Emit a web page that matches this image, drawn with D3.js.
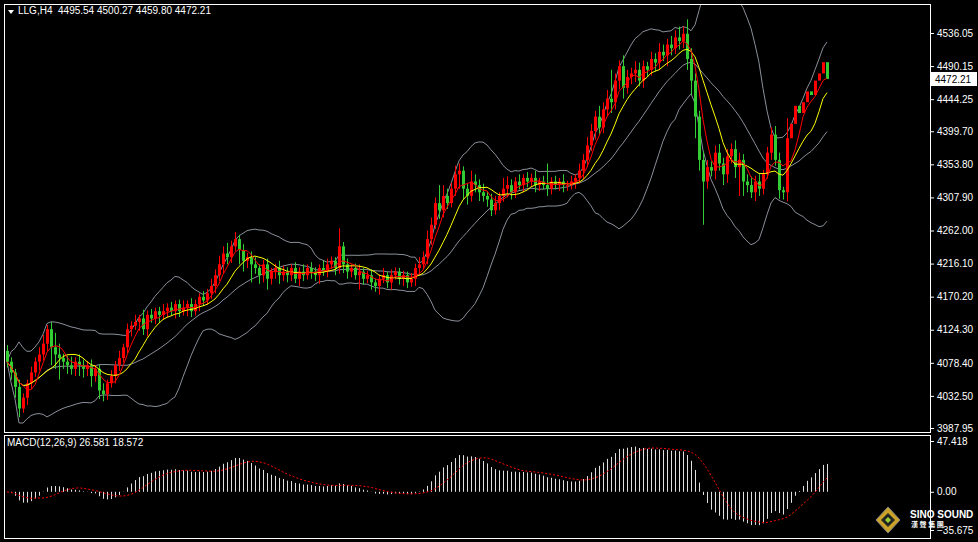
<!DOCTYPE html>
<html>
<head>
<meta charset="utf-8">
<style>
  body { margin: 0; background: #000; }
  svg { display: block; }
  .tick text { font-family: "Liberation Sans", Arial, sans-serif; font-size: 10px; fill: #fff; }
  .axis .domain { display: none; }
  .axis .tick line { stroke: #fff; }
</style>
</head>
<body>
<svg width="978" height="542"></svg>
<script src="https://d3js.org/d3.v7.min.js"></script>
<script>
// closing prices (H4 bars, oldest first)
let closes = [
  4080,4065,4045,4015,4030,4050,4065,4080,4090,4105,
  4125,4100,4090,4085,4080,4075,4070,4080,4075,4070,
  4075,4060,4070,4040,4035,4050,4060,4075,4085,4100,
  4125,4130,4135,4140,4125,4145,4140,4150,4145,4150,
  4155,4150,4160,4150,4155,4160,4150,4160,4170,4165,
  4175,4185,4200,4215,4230,4225,4240,4250,4235,4220,
  4225,4215,4210,4200,4215,4195,4205,4210,4200,4205,
  4200,4210,4195,4205,4200,4210,4205,4200,4210,4205,
  4215,4220,4210,4240,4215,4205,4210,4200,4205,4195,
  4200,4190,4185,4195,4200,4190,4200,4205,4195,4200,
  4190,4195,4210,4215,4225,4250,4270,4300,4290,4310,
  4300,4320,4340,4345,4320,4310,4330,4325,4315,4310,
  4305,4290,4300,4310,4320,4325,4315,4330,4325,4335,
  4330,4335,4325,4330,4325,4320,4330,4325,4330,4325,
  4325,4330,4335,4345,4360,4380,4400,4420,4405,4430,
  4445,4440,4470,4490,4460,4475,4480,4485,4470,4490,
  4485,4500,4495,4510,4505,4520,4515,4530,4525,4535,
  4500,4470,4420,4360,4330,4350,4345,4370,4355,4340,
  4365,4375,4350,4360,4330,4325,4315,4330,4320,4340,
  4370,4395,4360,4318,4315,4390,4410,4435,4425,4440,
  4455,4450,4470,4480,4495.54,4472.21
];
// wick lengths above / below the body, in points
let upWick = [
  8,6,5,10,6,5,8,6,10,12, 6,10,20,15,6,8,12,6,10,8,
  6,8,5,6,10,5,8,6,10,5, 8,6,10,5,12,6,8,5,6,10,
  6,8,5,6,10,5,8,6,5,8, 6,10,8,12,10,15,8,10,6,8,
  6,8,10,5,6,8,5,6,10,8, 6,5,8,6,10,5,8,6,5,10,
  8,6,5,25,6,8,5,6,10,5, 6,8,5,6,10,5,8,6,5,6,
  5,8,6,10,8,12,10,8,25,15, 10,8,12,10,6,8,15,10,8,12,
  6,8,10,5,15,12,8,6,10,5, 8,6,10,5,8,30,6,8,5,10,
  6,8,5,10,8,12,10,8,15,10, 12,40,10,8,15,10,8,12,10,8,
  6,10,8,12,10,8,12,10,15,10, 20,15,10,8,12,10,8,10,12,8,
  10,8,12,10,8,10,12,8,10,6, 8,10,12,10,4.73,28.06
];
let downWick = [
  8,10,15,12,6,10,8,6,12,8, 10,25,20,30,10,12,8,10,15,12,
  10,15,8,12,10,8,6,10,8,6, 8,10,6,12,8,10,6,8,10,6,
  8,6,10,8,6,12,8,6,10,8, 6,8,10,8,12,10,8,6,20,15,
  10,25,8,12,10,15,8,10,12,8, 10,8,6,10,8,6,10,8,12,6,
  8,6,10,8,12,10,8,6,20,8, 6,10,8,12,6,8,10,6,8,10,
  8,6,10,8,6,10,8,6,12,10, 8,6,10,20,15,12,8,10,12,8,
  10,8,6,10,8,12,10,8,6,10, 8,6,10,8,6,10,8,6,8,10,
  8,6,10,8,12,10,8,12,10,8, 10,15,10,12,15,8,10,12,8,10,
  10,8,12,10,8,15,10,8,12,10, 15,20,30,15,60,10,8,12,10,15,
  12,10,15,40,20,10,8,12,10,8, 6,10,8,12,10,12.41
];
let priceTicks = [4536.05,4490.15,4444.25,4399.70,4353.80,4307.90,4262.00,4216.10,4170.20,4124.30,4078.40,4032.50,3987.95];
let macdTicks = [47.418, 0.00, -35.675];
let header = "LLG,H4  4495.54 4500.27 4459.80 4472.21";
let macdLabel = "MACD(12,26,9) 26.581 18.572";

let font = "Liberation Sans, Arial, sans-serif";
let svg = d3.select("svg");
let n = closes.length;
let opens = closes.map((c, i) => i == 0 ? 4095 : closes[i - 1]);
let highs = closes.map((c, i) => Math.max(c, opens[i]) + upWick[i]);
let lows = closes.map((c, i) => Math.min(c, opens[i]) - downWick[i]);

let x = d3.scaleLinear().domain([0, n - 1]).range([7, 827]);
let y = d3.scaleLinear().domain([3987.95, 4536.05]).range([428, 33]);

// indicators computed from the closes
function sma(arr, p) {
  return arr.map((v, i) => d3.mean(arr.slice(Math.max(0, i - p + 1), i + 1)));
}
function ema(arr, p) {
  let k = 2 / (p + 1), out = [];
  arr.forEach((v, i) => out.push(i == 0 ? v : v * k + out[i - 1] * (1 - k)));
  return out;
}
let ma5 = sma(closes, 5);
let ma10 = sma(closes, 10);
let mid = sma(closes, 20);
let sd = closes.map((v, i) => d3.deviation(closes.slice(Math.max(0, i - 19), i + 1)) || 0);
let upper = mid.map((m, i) => m + 2 * sd[i]);
let lower = mid.map((m, i) => m - 2 * sd[i]);
let e12 = ema(closes, 12), e26 = ema(closes, 26);
let macd = e12.map((v, i) => v - e26[i]);
let signal = sma(macd, 9);

// clip regions
let defs = svg.append("defs");
defs.append("clipPath").attr("id", "mainclip").append("rect")
  .attr("x", 5).attr("y", 5).attr("width", 925).attr("height", 427);
defs.append("clipPath").attr("id", "macdclip").append("rect")
  .attr("x", 5).attr("y", 437).attr("width", 925).attr("height", 100);

// frames
svg.append("rect").attr("x", 4.5).attr("y", 4.5).attr("width", 926).attr("height", 428)
  .attr("fill", "none").attr("stroke", "#fff");
svg.append("rect").attr("x", 4.5).attr("y", 435.5).attr("width", 926).attr("height", 103)
  .attr("fill", "none").attr("stroke", "#fff");

let main = svg.append("g").attr("clip-path", "url(#mainclip)");
let line = arr => d3.line().x((d, i) => x(i)).y(d => y(d))(arr);

[upper, mid, lower].forEach(b => {
  main.append("path").attr("d", line(b)).attr("fill", "none")
    .attr("stroke", "#8a8f9a").attr("stroke-width", 1);
});

let candles = main.append("g").selectAll("g").data(closes).join("g");
candles.append("line")
  .attr("x1", (d, i) => Math.round(x(i)) + 0.5).attr("x2", (d, i) => Math.round(x(i)) + 0.5)
  .attr("y1", (d, i) => y(highs[i])).attr("y2", (d, i) => y(lows[i]))
  .attr("stroke", (d, i) => d >= opens[i] ? "#ff0000" : "#32cd32");
candles.append("rect")
  .attr("x", (d, i) => Math.round(x(i)) - 1)
  .attr("y", (d, i) => y(Math.max(d, opens[i])))
  .attr("width", 3)
  .attr("height", (d, i) => Math.max(1, Math.abs(y(d) - y(opens[i]))))
  .attr("fill", (d, i) => d >= opens[i] ? "#ff0000" : "#32cd32");

main.append("path").attr("d", line(ma10)).attr("fill", "none").attr("stroke", "#ffff00");
main.append("path").attr("d", line(ma5)).attr("fill", "none").attr("stroke", "#ff0000");

// price axis
svg.append("g").attr("class", "axis")
  .attr("transform", "translate(930,0)")
  .call(d3.axisRight(y).tickValues(priceTicks).tickSize(4).tickPadding(3).tickFormat(d3.format(".2f")));

// current price label
let last = closes[n - 1];
svg.append("rect").attr("x", 931).attr("y", y(last) - 7).attr("width", 46).attr("height", 14).attr("fill", "#fff");
svg.append("text").attr("x", 935).attr("y", y(last) + 4).text(d3.format(".2f")(last))
  .attr("font-family", font).attr("font-size", "10px").attr("fill", "#000");

// header
svg.append("path").attr("d", "M8,10 L14,10 L11,14 Z").attr("fill", "#fff");
svg.append("text").attr("x", 18).attr("y", 14).text(header)
  .attr("font-family", font).attr("font-size", "10px").attr("fill", "#fff")
  .style("white-space", "pre");

// MACD panel
let ym = d3.scaleLinear().domain([-35.675, 47.418]).range([530, 441]);
let mp = svg.append("g").attr("clip-path", "url(#macdclip)");
mp.append("g").selectAll("line").data(macd).join("line")
  .attr("x1", (d, i) => Math.round(x(i)) + 0.5).attr("x2", (d, i) => Math.round(x(i)) + 0.5)
  .attr("y1", ym(0)).attr("y2", d => ym(d))
  .attr("stroke", "#e0e0e0").attr("stroke-width", 1);
mp.append("path").attr("d", d3.line().x((d, i) => x(i)).y(d => ym(d))(signal))
  .attr("fill", "none").attr("stroke", "#ff0000").attr("stroke-dasharray", "2,2");

svg.append("g").attr("class", "axis")
  .attr("transform", "translate(930,0)")
  .call(d3.axisRight(ym).tickValues(macdTicks).tickSize(4).tickPadding(3)
    .tickFormat(d => d == 0 ? "0.00" : d3.format(".3f")(d)));

svg.append("text").attr("x", 7).attr("y", 446).text(macdLabel)
  .attr("font-family", font).attr("font-size", "10px").attr("fill", "#fff");

// logo
let logo = svg.append("g").attr("transform", "translate(888,520)");
logo.append("path").attr("d", "M0,-13 L12,0 L0,13 L-12,0 Z").attr("fill", "#c9a227").attr("stroke", "#888");
logo.append("path").attr("d", "M0,-7 L7,0 L0,7 L-7,0 Z").attr("fill", "#222");
logo.append("path").attr("d", "M0,-3 L3,0 L0,3 L-3,0 Z").attr("fill", "#9acd32");
svg.append("text").attr("x", 910).attr("y", 518).text("SINO SOUND")
  .attr("font-family", font).attr("font-weight", "bold")
  .attr("font-size", "10px").attr("fill", "#fff");
svg.append("text").attr("x", 911).attr("y", 527).text("漢 聲 集 團")
  .attr("font-family", "Noto Sans CJK TC").attr("font-weight", "bold")
  .attr("font-size", "7px").attr("fill", "#fff");
</script>
</body>
</html>
